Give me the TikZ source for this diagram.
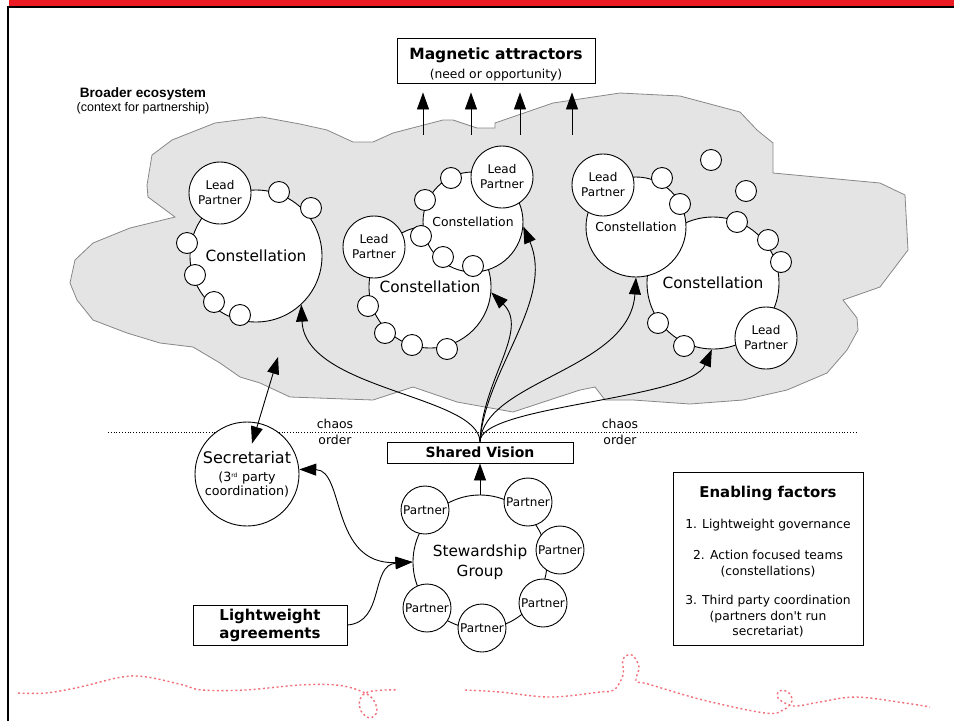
\documentclass[tikz,border=0pt]{standalone}
\usepackage{fontspec}
\setmainfont{DejaVu Sans}
\newfontfamily\arialfont{Liberation Sans}
\usetikzlibrary{shapes,arrows.meta,positioning}

\definecolor{cloudfill}{RGB}{228,228,228}
\definecolor{cloudline}{RGB}{135,135,135}
\definecolor{barred}{RGB}{237,28,36}
\definecolor{scribble}{RGB}{242,110,120}

\begin{document}
\begin{tikzpicture}[x=1pt, y=-1pt, line width=0.9pt,
    bigcirc/.style={draw, circle, fill=white, inner sep=0pt},
    bigtext/.style={font=\fontsize{15.4}{18}\selectfont},
    smalltext/.style={font=\fontsize{12.4}{15}\selectfont},
    lead/.style={draw, circle, fill=white, minimum size=62pt, inner sep=0pt, align=center, font=\fontsize{12}{15}\selectfont},
    dot/.style={draw, circle, fill=white, minimum size=21pt, inner sep=0pt},
    partner/.style={draw, circle, fill=white, minimum size=48pt, inner sep=0pt, font=\fontsize{12}{14}\selectfont},
    arr/.style={-{Triangle[length=17pt,width=12pt]}},
    twoarr/.style={{Triangle[length=17pt,width=12pt]}-{Triangle[length=17pt,width=12pt]}},
    boxed/.style={draw, fill=white, inner sep=0pt, align=center}
]
\useasboundingbox (0,0) rectangle (954,721);

% page frame
\fill[barred] (9,0) rectangle (954,6);
\draw[line width=2pt] (7,7) -- (954,7);
\draw[line width=2.2pt] (8,6) -- (8,721);

% ecosystem cloud
\filldraw[fill=cloudfill, draw=cloudline, line width=0.8pt]
  (152,155) -- (172,140) -- (215,123) -- (262,117) -- (300,124) -- (327,130)
  -- (353,142) -- (373,142) -- (393,133) -- (443,120) -- (453,120) -- (477,128)
  -- (495,128) -- (495,123) -- (553,103) -- (620,93) -- (680,96) -- (740,112)
  -- (757,130) -- (773,143) -- (773,173) -- (880,183) -- (905,195) -- (908,250)
  -- (880,287) -- (843,300) -- (857,318) -- (858,330) -- (847,350) -- (827,373)
  -- (787,390) -- (743,400) -- (690,404) -- (633,400) -- (605,400) -- (595,387)
  -- (580,390) -- (513,412) -- (457,402) -- (413,387) -- (373,400) -- (290,397)
  -- (260,383) -- (240,377) -- (220,363) -- (193,347) -- (160,343) -- (127,333)
  -- (93,320) -- (77,300) -- (70,283) -- (75,260) -- (93,243) -- (130,228)
  -- (175,217) -- (148,197) -- (147,185) -- cycle;

\node[align=center, font=\arialfont\fontsize{12.5}{13.5}\selectfont] (ecosystem) at (143,101)
  {{\bfseries\fontsize{13.6}{15}\selectfont Broader ecosystem}\\(context for partnership)};

% magnetic attractors
\node[boxed, minimum width=198pt, minimum height=45pt, font=\fontsize{12.3}{15}\selectfont] (magnet) at (496,60.5)
  {{\bfseries\fontsize{15.5}{18}\selectfont\rule{0pt}{20pt}Magnetic attractors}\\[4pt](need or opportunity)};
\coordinate (pull1) at (423,135);
\coordinate (pull2) at (471,135);
\coordinate (pull3) at (520,135);
\coordinate (pull4) at (572,135);
\foreach \p in {pull1,pull2,pull3,pull4}
  \draw[arr, shorten >=9pt] (\p) -- (\p |- magnet.south);

% constellation left
\node[bigcirc, minimum size=132pt, bigtext] (conA) at (256,256) {Constellation};
\node[lead] (leadA) at (220,193) {Lead\\Partner};
\node[dot] (a1) at (279,192) {};
\node[dot] (a2) at (311,208) {};
\node[dot] (a3) at (187,243) {};
\node[dot] (a4) at (195,275) {};
\node[dot] (a5) at (214,302) {};
\node[dot] (a6) at (240,315) {};

% constellations middle
\node[bigcirc, minimum size=122pt, bigtext] (conC) at (430,287) {Constellation};
\node[lead] (leadC) at (374,247) {Lead\\Partner};
\node[dot] (c1) at (368,306) {};
\node[dot] (c2) at (385,333) {};
\node[dot] (c3) at (412,345) {};
\node[dot] (c4) at (447,349) {};
\node[bigcirc, minimum size=100pt, smalltext] (conB) at (473,222) {Constellation};
\node[lead] (leadB) at (502,177) {Lead\\Partner};
\node[dot] (b1) at (451,178) {};
\node[dot] (b2) at (425,200) {};
\node[dot] (b3) at (421,236) {};
\node[dot] (b4) at (443,257) {};
\node[dot] (b5) at (473,266) {};

% constellations right
\node[bigcirc, minimum size=132pt, bigtext] (conE) at (713,283) {Constellation};
\node[lead] (leadE) at (766,338) {Lead\\Partner};
\node[dot] (e1) at (737,222) {};
\node[dot] (e2) at (768,240) {};
\node[dot] (e3) at (781,262) {};
\node[dot] (e4) at (658,323) {};
\node[dot] (e5) at (684,346) {};
\node[bigcirc, minimum size=100pt, smalltext] (conD) at (636,227) {Constellation};
\node[lead] (leadD) at (603,185) {Lead\\Partner};
\node[dot] (d1) at (662,178) {};
\node[dot] (d2) at (680,204) {};
\node[dot] (f1) at (711,160) {};
\node[dot] (f2) at (746,191) {};

% chaos / order
\draw[dotted, line width=0.8pt] (108,432) -- (858,432);
\node[smalltext] (chaosL) at (335,424) {chaos};
\node[smalltext] (orderL) at (335,440) {order};
\node[smalltext] (chaosR) at (620,424) {chaos};
\node[smalltext] (orderR) at (620,440) {order};

% shared vision
\node[boxed, minimum width=186pt, minimum height=21pt, font=\bfseries\fontsize{14}{16}\selectfont] (vision) at (480,452.5) {Shared Vision};
\draw[arr] (vision.north) .. controls (478,395) and (305,390) .. (conA.-47);
\draw[arr] (vision.north) .. controls (482,380) and (530,330) .. (conC.-5);
\draw[arr] (vision.north) .. controls (485,370) and (555,300) .. (conB.-5);
\draw[arr] (vision.north) .. controls (485,380) and (630,370) .. (conD.-90);
\draw[arr] (vision.north) .. controls (480,405) and (690,400) .. (conE.-91);

% secretariat
\node[bigcirc, minimum size=104pt, align=center, font=\fontsize{12.7}{13.5}\selectfont] (sec) at (247,474)
  {{\fontsize{16}{19}\selectfont Secretariat}\\[5pt](3\textsuperscript{\fontsize{6}{6}\selectfont rd} party\\coordination)};
\coordinate (secTop) at (278,357);
\draw[twoarr] (secTop) -- ([shift={(5,22)}]sec.north);

% stewardship group
\node[bigcirc, minimum size=134pt, align=center, font=\fontsize{15.3}{20}\selectfont] (steward) at (480,562) {Stewardship\\Group};
\node[partner] (p1) at (425,510) {Partner};
\node[partner] (p2) at (528,502) {Partner};
\node[partner] (p3) at (560,550) {Partner};
\node[partner] (p4) at (543,603) {Partner};
\node[partner] (p5) at (482,628) {Partner};
\node[partner] (p6) at (427,608) {Partner};
\draw[arr] (steward.north) -- (vision.south);

\node[boxed, minimum width=154pt, minimum height=40pt, font=\bfseries\fontsize{15}{18}\selectfont] (agree) at (270,625) {Lightweight\\agreements};
\draw[twoarr] (sec.5) .. controls (345,470) and (330,565) .. (steward.west);
\draw[arr] (agree.east) .. controls (385,622) and (370,565) .. (steward.west);

% enabling factors
\node[boxed, anchor=north, minimum width=190pt, minimum height=173pt, font=\fontsize{12.3}{15.5}\selectfont] (factors) at (768,472)
  {{\bfseries\fontsize{14.9}{17}\selectfont\rule{0pt}{17pt}Enabling factors}\\[15pt]
   1. Lightweight governance\\[16pt]
   2. Action focused teams\\(constellations)\\[14pt]
   3. Third party coordination\\(partners don\textquotesingle t run\\secretariat)};

% scribble along the bottom
\draw[scribble, line width=1.4pt, dash pattern=on 2pt off 2.6pt]
  plot[smooth, tension=0.6] coordinates {(18,693) (46,693) (80,687) (122,677) (147,677)
  (183,685) (202,690) (245,690) (300,685) (336,685) (358,690) (372,698) (377,711)
  (370,718) (361,711) (360,699) (368,692) (385,690) (398,690)};
\draw[scribble, line width=1.4pt, dash pattern=on 2pt off 2.6pt]
  plot[smooth, tension=0.6] coordinates {(465,690) (500,692) (550,697) (600,692) (614,690)
  (623,675) (623,659) (632,655) (639,667) (636,681) (648,684) (703,700) (765,713)
  (783,710) (792,701) (788,692) (779,691) (778,698) (787,704) (797,706) (820,702)
  (856,697) (905,703) (930,707)};
\end{tikzpicture}
\end{document}
